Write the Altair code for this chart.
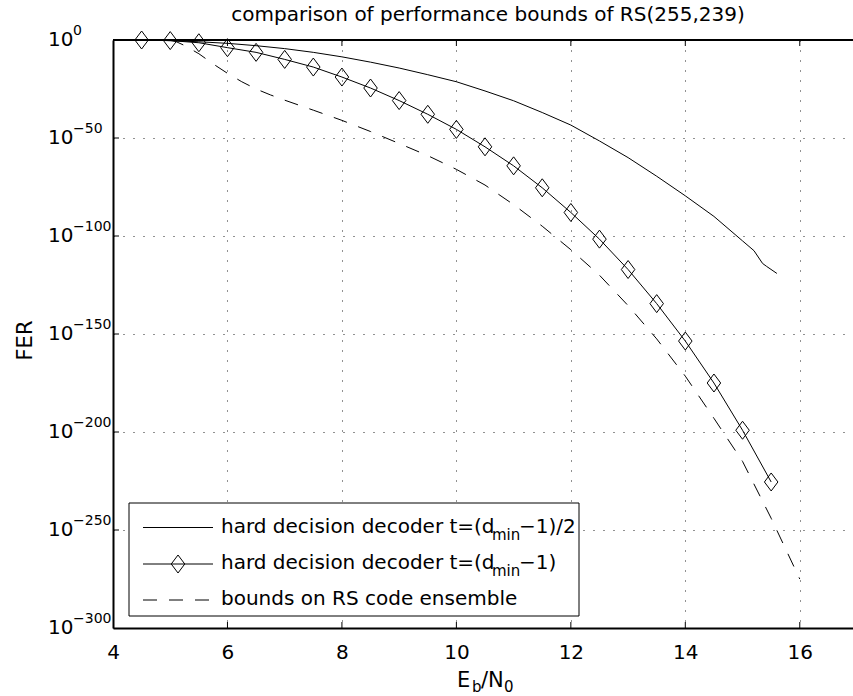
import altair as alt
import pandas as pd

FONT = "DejaVu Sans"
W, H = 740, 588

# ---------------- data ----------------
x_ticks = [4, 6, 8, 10, 12, 14, 16]
y_ticks = [0, -50, -100, -150, -200, -250, -300]
y_exp_labels = ["0", "\u221250", "\u2212100", "\u2212150", "\u2212200", "\u2212250", "\u2212300"]

# hard decision decoder t=(dmin-1)/2  (solid, no markers); values are log10(FER)
x_half = [4.5, 5.0, 5.5, 6.0, 6.5, 7.0, 7.5, 8.0, 8.5, 9.0, 9.5, 10.0, 10.5, 11.0,
          11.5, 12.0, 12.5, 13.0, 13.5, 14.0, 14.5, 15.0, 15.2, 15.35, 15.42, 15.6]
e_half = [0.0, -0.35, -0.9, -1.7, -2.9, -4.4, -6.3, -8.6, -11.3, -14.3, -17.7, -21.3, -26.0, -31.0,
          -37.0, -43.4, -51.5, -60.0, -69.5, -79.5, -90.0, -102.5, -107.5, -114.0, -115.5, -119.1]

# hard decision decoder t=(dmin-1)  (solid with diamonds)
x_full = [4.5, 5.0, 5.5, 6.0, 6.5, 7.0, 7.5, 8.0, 8.5, 9.0, 9.5, 10.0, 10.5, 11.0,
          11.5, 12.0, 12.5, 13.0, 13.5, 14.0, 14.5, 15.0, 15.5]
e_full = [0.0, -0.3, -1.4, -3.9, -6.3, -9.9, -13.8, -18.9, -24.5, -30.9, -37.9, -45.6, -54.5, -64.2,
          -75.4, -88.0, -101.6, -117.1, -134.5, -153.6, -175.0, -199.1, -225.5]

# bounds on RS code ensemble (dashed)
x_ens = [5.0, 5.1, 5.25, 5.5, 5.75, 6.0, 6.25, 6.5, 6.75, 7.0, 7.5, 8.0, 8.5, 9.0, 9.5, 10.0, 10.5,
         11.0, 11.5, 12.0, 12.5, 13.0, 13.5, 14.0, 14.5, 15.0, 15.5, 16.0]
e_ens = [0.0, -0.8, -2.8, -7.0, -12.2, -17.0, -21.3, -25.0, -28.0, -30.7, -35.8, -41.0, -46.7, -52.8,
         -59.0, -66.0, -74.0, -84.0, -95.0, -107.0, -120.0, -135.5, -152.5, -171.5, -193.0, -215.0,
         -244.0, -275.0]

title_text = "comparison of performance bounds of RS(255,239)"
legend_labels = ["hard decision decoder t=(d", "min", "\u22121)/2", "\u22121)", "bounds on RS code ensemble"]

# ---------------- tables ----------------
df_half = pd.DataFrame({"x": x_half, "e": e_half})
df_full = pd.DataFrame({"x": x_full, "e": e_full})
df_ens = pd.DataFrame({"x": x_ens, "e": e_ens})
df_ylab = pd.DataFrame({"e": y_ticks, "exp": y_exp_labels})
df_yt = pd.DataFrame({"e": y_ticks[1:-1]})
df_xt = pd.DataFrame({"x": x_ticks[1:]})
one = pd.DataFrame({"k": [0]})

xs = alt.Scale(domain=[4, 16.93], nice=False, zero=False)
ys = alt.Scale(domain=[-300, 0], nice=False, zero=False)

GRID = dict(grid=True, gridDash=[1, 9], gridColor="#222222", gridWidth=1, gridOpacity=1)

x_axis = alt.Axis(values=x_ticks, ticks=False, tickSize=0, domain=True, domainColor="black",
                  domainWidth=2, labelFont=FONT, labelFontSize=20, labelColor="black",
                  labelPadding=14, labelFlush=False, labelOverlap=False, title="", **GRID)
y_axis = alt.Axis(values=y_ticks, ticks=False, tickSize=0, labels=False, domain=True,
                  domainColor="black", domainWidth=2, title="FER", titleFont=FONT,
                  titleFontSize=21, titleFontWeight="normal", titleColor="black",
                  titleAngle=270, titleX=-82, titleY=300, titleAlign="center",
                  titleBaseline="alphabetic", **GRID)


def X():
    return alt.X("x:Q", scale=xs, axis=x_axis)


def Y():
    return alt.Y("e:Q", scale=ys, axis=y_axis)


DIAMOND = "M0,-1L0.75,0L0,1L-0.75,0Z"

line_half = alt.Chart(df_half).mark_line(color="black", strokeWidth=1, clip=True).encode(x=X(), y=Y())
line_full = alt.Chart(df_full).mark_line(color="black", strokeWidth=1, clip=True).encode(x=X(), y=Y())
pts_full = alt.Chart(df_full).mark_point(shape=DIAMOND, size=324, filled=False, color="black",
                                         strokeWidth=1, opacity=1).encode(x=X(), y=Y())
line_ens = alt.Chart(df_ens).mark_line(color="black", strokeWidth=1, strokeDash=[14, 12],
                                       clip=True).encode(x=X(), y=Y())

# inward ticks and top border (MATLAB box style)
ticks_left = alt.Chart(df_yt).mark_rule(color="black", strokeWidth=1).encode(
    y=Y(), x=alt.value(0), x2=alt.value(6))
ticks_bottom = alt.Chart(df_xt).mark_rule(color="black", strokeWidth=1).encode(
    x=X(), y=alt.value(H), y2=alt.value(H - 6))
ticks_top = alt.Chart(df_xt).mark_rule(color="black", strokeWidth=1).encode(
    x=X(), y=alt.value(0), y2=alt.value(6))
top_border = alt.Chart(one).mark_rule(color="black", strokeWidth=2).encode(
    x=alt.value(0), x2=alt.value(W), y=alt.value(0))

# y tick labels 10^k
ylab_base = alt.Chart(df_ylab).mark_text(text="10", font=FONT, fontSize=20, color="black",
                                         align="left", baseline="alphabetic", dy=6).encode(
    y=Y(), x=alt.value(-65))
ylab_exp = alt.Chart(df_ylab).mark_text(font=FONT, fontSize=14, color="black",
                                        align="left", baseline="alphabetic", dy=-5).encode(
    y=Y(), x=alt.value(-40), text="exp:N")


def txt(s, x, y, size=20, align="left"):
    return alt.Chart(one).mark_text(text=s, font=FONT, fontSize=size, color="black",
                                    align=align, baseline="alphabetic").encode(
        x=alt.value(x), y=alt.value(y))


title = txt(title_text, 375, -19, 20, "center")
xlabel = [txt("E", 344, 647, 21), txt("b", 359, 652, 15),
          txt("/N", 368, 647, 21), txt("0", 391, 652, 15)]

# legend
legend_box = alt.Chart(one).mark_rect(fill="white", stroke="black", strokeWidth=1).encode(
    x=alt.value(16), x2=alt.value(466), y=alt.value(463), y2=alt.value(576))
rows = [487.5, 524, 560]
bases = [492.5, 529, 565]
leg_l1 = alt.Chart(one).mark_rule(color="black", strokeWidth=1).encode(
    x=alt.value(30), x2=alt.value(100), y=alt.value(rows[0]))
leg_l2 = alt.Chart(one).mark_rule(color="black", strokeWidth=1).encode(
    x=alt.value(30), x2=alt.value(100), y=alt.value(rows[1]))
leg_p2 = alt.Chart(one).mark_point(shape=DIAMOND, size=324, filled=False, color="black",
                                   strokeWidth=1, opacity=1).encode(
    x=alt.value(65), y=alt.value(rows[1]))
leg_l3 = alt.Chart(one).mark_rule(color="black", strokeWidth=1, strokeDash=[14, 12]).encode(
    x=alt.value(30), x2=alt.value(100), y=alt.value(rows[2]))
leg_text = [
    txt(legend_labels[0], 108, bases[0]), txt(legend_labels[1], 379, bases[0] + 7, 15),
    txt(legend_labels[2], 406, bases[0]),
    txt(legend_labels[0], 108, bases[1]), txt(legend_labels[1], 379, bases[1] + 7, 15),
    txt(legend_labels[3], 406, bases[1]),
    txt(legend_labels[4], 108, bases[2]),
]

chart = alt.layer(
    line_half, line_full, pts_full, line_ens,
    ticks_left, ticks_bottom, ticks_top, top_border,
    ylab_base, ylab_exp, title, *xlabel,
    legend_box, leg_l1, leg_l2, leg_p2, leg_l3, *leg_text,
).properties(
    width=W, height=H,
    autosize=alt.AutoSizeParams(type="none"),
    padding={"left": 113, "top": 40, "right": 0, "bottom": 68},
    background="white",
).configure_view(stroke=None)

chart.save("out.html", embed_options={"renderer": "svg", "actions": False})
